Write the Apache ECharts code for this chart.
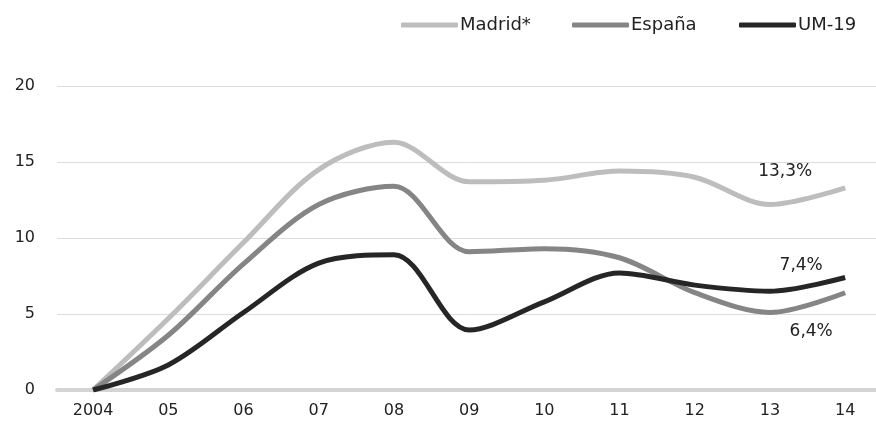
<!DOCTYPE html>
<html>
<head>
<meta charset="utf-8">
<script src="https://cdn.jsdelivr.net/npm/echarts@6/dist/echarts.min.js"></script>
<style>
  html, body { margin: 0; padding: 0; background: #fff; }
  #chart { width: 876px; height: 421px; }
</style>
</head>
<body>
<div id="chart"></div>
<script>
var years = ['2004', '05', '06', '07', '08', '09', '10', '11', '12', '13', '14']
var madrid = [0, 4.7, 9.7, 14.5, 16.3, 13.7, 13.8, 14.4, 14.0, 12.2, 13.3]
var espana = [0, 3.6, 8.3, 12.2, 13.4, 9.1, 9.3, 8.7, 6.4, 5.1, 6.4]
var um19 = [0, 1.65, 5.1, 8.35, 8.9, 3.95, 5.8, 7.7, 6.9, 6.5, 7.4]

var font = 'DejaVu Sans, Verdana, sans-serif'

function pct(v) {
  return v.toFixed(1).replace('.', ',') + '%'
}

function toPoints(values, labelOffset) {
  return values.map(function(v, i) {
    var item = { value: [i, v] }
    if (i === values.length - 1) {
      item.label = {
        show: true,
        position: 'inside',
        offset: labelOffset,
        formatter: function(p) { return pct(p.value[1]) },
        color: '#222',
        fontSize: 17,
        fontFamily: font
      }
    }
    return item
  })
}

function lineSeries(name, values, color, labelOffset) {
  return {
    name: name,
    type: 'line',
    smooth: 0.32,
    showSymbol: true,
    symbol: 'circle',
    symbolSize: 0,
    lineStyle: { color: color, width: 5 },
    itemStyle: { color: color },
    emphasis: { disabled: true },
    data: toPoints(values, labelOffset)
  }
}

function legendItem(name, left) {
  return {
    left: left,
    top: 11,
    itemWidth: 57,
    itemHeight: 5,
    icon: 'roundRect',
    textStyle: { color: '#222', fontSize: 18, fontFamily: font, padding: [0, 0, 0, -3] },
    data: [name]
  }
}

var chart = echarts.init(document.getElementById('chart'))
chart.setOption({
  animation: false,
  grid: { left: 57, right: 0, top: 86, bottom: 31 },
  legend: [
    legendItem('Madrid*', 396),
    legendItem('España', 567),
    legendItem('UM-19', 734)
  ],
  xAxis: {
    type: 'value',
    min: -0.48,
    max: 10.41,
    splitLine: { show: false },
    axisTick: { show: false },
    axisLine: { show: true, lineStyle: { color: '#d4d4d4', width: 4 } },
    axisLabel: {
      customValues: years.map(function(y, i) { return i }),
      formatter: function(v) { return years[Math.round(v)] },
      color: '#222',
      fontSize: 16,
      fontFamily: font,
      margin: 13
    }
  },
  yAxis: {
    type: 'value',
    min: 0,
    max: 20,
    interval: 5,
    axisLine: { show: false },
    axisTick: { show: false },
    splitLine: { lineStyle: { color: '#dcdcdc', width: 1 } },
    axisLabel: { color: '#222', fontSize: 16, fontFamily: font, margin: 22 }
  },
  series: [
    lineSeries('Madrid*', madrid, '#bdbdbd', [-60, -16]),
    lineSeries('España', espana, '#858585', [-34, 39]),
    lineSeries('UM-19', um19, '#262626', [-44, -12])
  ]
})
</script>
</body>
</html>
